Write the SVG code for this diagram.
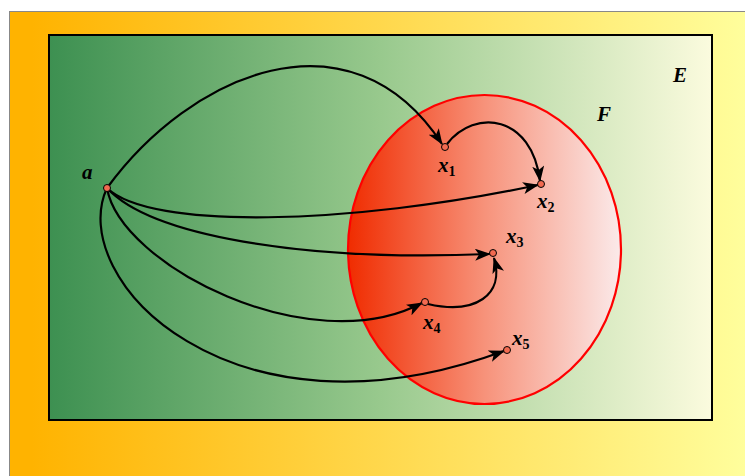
<svg xmlns="http://www.w3.org/2000/svg" width="745" height="476" viewBox="0 0 745 476">
<style>
.lbl{font-family:"Liberation Serif","DejaVu Serif",serif;font-style:italic;font-weight:bold;font-size:21px;fill:#000}
.sub{font-size:14px;font-style:normal}
.edge{fill:none;stroke:#000;stroke-width:2.2;marker-end:url(#arr)}
.pt{fill:#f26a50;stroke:#000;stroke-width:1}
</style>
<defs>
<linearGradient id="gOuter" x1="0" y1="0" x2="1" y2="0">
<stop offset="0" stop-color="#ffb300"/>
<stop offset="0.03" stop-color="#ffb300"/>
<stop offset="1" stop-color="#ffff9e"/>
</linearGradient>
<linearGradient id="gInner" x1="0" y1="0" x2="1" y2="0">
<stop offset="0" stop-color="#3d9051"/>
<stop offset="0.5" stop-color="#98c98d"/>
<stop offset="1" stop-color="#fbfbde"/>
</linearGradient>
<linearGradient id="gF" x1="0" y1="0" x2="1" y2="0">
<stop offset="0" stop-color="#f02c00"/>
<stop offset="0.5" stop-color="#f7927a"/>
<stop offset="1" stop-color="#fbeaea"/>
</linearGradient>
<marker id="arr" viewBox="0 0 16 12" refX="15" refY="6" markerWidth="16" markerHeight="12" markerUnits="userSpaceOnUse" orient="auto">
<path d="M0,0 L16,6 L0,12 L4,6 Z" fill="#000"/>
</marker>
</defs>
<g id="E-outer"><rect x="9.5" y="11.5" width="745" height="475" fill="url(#gOuter)" stroke="#888" stroke-width="1"/></g>
<g id="E"><rect x="49" y="35" width="663" height="385" fill="url(#gInner)" stroke="#000" stroke-width="2"/>
<text class="lbl" x="673" y="82">E</text></g>
<g id="F"><ellipse cx="484.5" cy="249.5" rx="136.5" ry="154.5" fill="url(#gF)" stroke="#f00" stroke-width="2.2"/>
<text class="lbl" x="597" y="121">F</text></g>
<g id="connectors">
<path class="edge" d="M107,188 C190,74 350,4 442,144"/>
<path class="edge" d="M447,144 C475,108 532,115 540,181"/>
<path class="edge" d="M107,188 C150,230 350,225 538,185"/>
<path class="edge" d="M107,188 C150,235 300,262 490,254"/>
<path class="edge" d="M107,188 C120,265 310,362 422,303"/>
<path class="edge" d="M428,304 C475,315 505,295 494,258"/>
<path class="edge" d="M107,188 C65,278 230,452 504,351"/>
</g>
<g id="a"><circle class="pt" cx="107" cy="188" r="3.5"/><text class="lbl" x="82" y="179">a</text></g>
<g id="x1"><circle class="pt" cx="445" cy="147" r="3.5"/><text class="lbl" x="438" y="172">x<tspan class="sub" dy="4">1</tspan></text></g>
<g id="x2"><circle class="pt" cx="541" cy="184" r="3.5"/><text class="lbl" x="537" y="208">x<tspan class="sub" dy="4">2</tspan></text></g>
<g id="x3"><circle class="pt" cx="493" cy="253" r="3.5"/><text class="lbl" x="506" y="243">x<tspan class="sub" dy="4">3</tspan></text></g>
<g id="x4"><circle class="pt" cx="425" cy="302" r="3.5"/><text class="lbl" x="423" y="329">x<tspan class="sub" dy="4">4</tspan></text></g>
<g id="x5"><circle class="pt" cx="507" cy="350" r="3.5"/><text class="lbl" x="512" y="345">x<tspan class="sub" dy="4">5</tspan></text></g>
</svg>
